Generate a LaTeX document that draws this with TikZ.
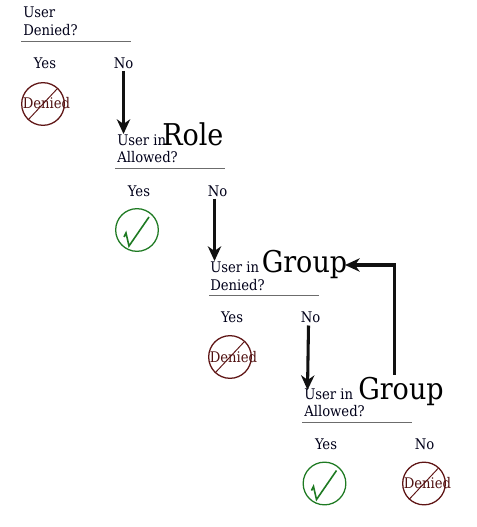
\documentclass[tikz,border=0pt]{standalone}
\usepackage{fontspec}
\setmainfont{DejaVu Serif Condensed}
\usetikzlibrary{arrows.meta}
\definecolor{den}{HTML}{5E1414}
\definecolor{okc}{HTML}{1E7A22}
\definecolor{ink}{HTML}{111111}
\tikzset{
  txt/.style={inner sep=0pt,anchor=base west,font=\fontsize{11pt}{13pt}\selectfont,text=black!90!blue},
  big/.style={inner sep=0pt,anchor=base west,font=\fontsize{22.5pt}{26pt}\selectfont,text=black},
  lab/.style={inner sep=0pt,anchor=base,font=\fontsize{11pt}{13pt}\selectfont,text=black!90!blue},
  rulel/.style={draw=gray!85!black,line width=0.75pt},
  flow/.style={draw=ink,line width=2.3pt,-{Stealth[length=11pt,width=10pt,inset=3.5pt]}},
  ring/.style={circle,draw=#1,line width=#1width,minimum size=32pt,inner sep=0pt},
  ring/.style={circle,draw=#1,line width=0.95pt,minimum size=32pt,inner sep=0pt},
  deniedtxt/.style={inner sep=0pt,anchor=base,font=\fontsize{11pt}{13pt}\selectfont,text=den!85!black},
}
\newcommand{\deniedmark}[3]{%
  \node[ring=den] (#1) at (#2,#3) {};
  \draw[den,line width=0.7pt] (#2+14,#3-15) -- (#2-15,#3+16);
  \node[deniedtxt] (#1t) at (#2+3.5,#3+5) {Denied};
}
\newcommand{\okmark}[3]{%
  \node[ring=okc] (#1) at (#2,#3) {};
  \draw[okc,line width=1.2pt,line join=miter] (#2-13,#3+7) -- (#2-11,#3+3) -- (#2-8,#3+16) -- (#2+12,#3-13);
}
\begin{document}
\begin{tikzpicture}[x=0.75pt,y=-0.75pt]
\useasboundingbox (0,0) rectangle (476,527);
% block 1
\node[txt] (a1) at (23,18) {User};
\node[txt] (a2) at (23,36) {Denied?};
\coordinate (ar1) at (21,42); \coordinate (ar2) at (131,42);
\draw[rulel] (ar1) -- (ar2);
\node[lab] (ay) at (45,69) {Yes};
\node[lab] (an) at (123.5,69) {No};
\deniedmark{ad}{43}{104}
% block 2
\node[txt] (b1) at (117,146) {User in};
\node[big] (b1g) at (162,146) {Role};
\node[txt] (b2) at (117,163) {Allowed?};
\coordinate (br1) at (115,169); \coordinate (br2) at (225,169);
\draw[rulel] (br1) -- (br2);
\node[lab] (by) at (139,196) {Yes};
\node[lab] (bn) at (217.5,196) {No};
\okmark{bk}{137}{230}
% block 3
\node[txt] (c1) at (210,272) {User in};
\node[big] (c1g) at (261.5,272) {Group};
\node[txt] (c2) at (210,290) {Denied?};
\coordinate (cr1) at (209,295.5); \coordinate (cr2) at (319,295.5);
\draw[rulel] (cr1) -- (cr2);
\node[lab] (cy) at (232,322) {Yes};
\node[lab] (cn) at (310.5,322) {No};
\deniedmark{cd}{230}{357}
% block 4
\node[txt] (d1) at (304,399) {User in};
\node[big] (d1g) at (358,399) {Group};
\node[txt] (d2) at (304,416) {Allowed?};
\coordinate (dr1) at (302,422); \coordinate (dr2) at (412,422);
\draw[rulel] (dr1) -- (dr2);
\node[lab] (dy) at (326,449) {Yes};
\node[lab] (dn) at (424.5,449) {No};
\okmark{dk}{324.5}{483.5}
\deniedmark{dd}{424}{483.5}
% connectors
\coordinate (e1a) at (123.5,71); \coordinate (e1b) at (123.5,134);
\coordinate (e2a) at (214.5,198.5); \coordinate (e2b) at (214.5,261);
\coordinate (e3a) at (308.5,325.5); \coordinate (e3b) at (307.5,390);
\coordinate (e4a) at (394.5,374.5); \coordinate (e4c) at (394.5,265); \coordinate (e4b) at (345,265);
\draw[flow] (e1a) -- (e1b);
\draw[flow] (e2a) -- (e2b);
\draw[flow] (e3a) -- (e3b);
\draw[flow] (e4a) -- (e4c) -- (e4b);
\end{tikzpicture}
\end{document}
